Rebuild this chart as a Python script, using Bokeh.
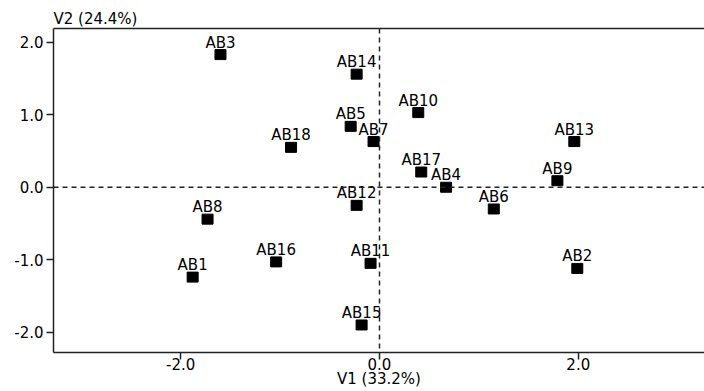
from bokeh.plotting import figure
from bokeh.models import ColumnDataSource, Span, LinearAxis, FixedTicker, Range1d, NumeralTickFormatter
from bokeh.core.properties import value
from bokeh.embed import file_html
from bokeh.resources import INLINE

labels = ["AB1", "AB2", "AB3", "AB4", "AB5", "AB6", "AB7", "AB8", "AB9",
          "AB10", "AB11", "AB12", "AB13", "AB14", "AB15", "AB16", "AB17", "AB18"]
v1 = [-1.88, 1.99, -1.60, 0.67, -0.29, 1.15, -0.06, -1.73, 1.79,
      0.39, -0.09, -0.23, 1.96, -0.23, -0.18, -1.04, 0.42, -0.89]
v2 = [-1.24, -1.12, 1.83, 0.00, 0.84, -0.30, 0.63, -0.44, 0.09,
      1.03, -1.05, -0.25, 0.63, 1.56, -1.90, -1.03, 0.21, 0.55]
x_ticks = [-2.0, 0.0, 2.0]
y_ticks = [-2.0, -1.0, 0.0, 1.0, 2.0]
x_title = "V1 (33.2%)"
y_title = "V2 (24.4%)"

FONT = "DejaVu Sans"
FS = "15px"
AX = "#222222"

src = ColumnDataSource(dict(x=v1, y=v2, name=labels))

p = figure(width=704, height=391, output_backend="svg", toolbar_location=None,
           x_range=Range1d(-3.28, 3.27), y_range=Range1d(-2.28, 2.19),
           x_axis_location=None, y_axis_location=None,
           min_border_left=53, min_border_right=0, min_border_top=28, min_border_bottom=39)
p.grid.visible = False
p.outline_line_color = None
p.background_fill_color = "white"
p.border_fill_color = "white"

p.title.text = y_title
p.title.align = "left"
p.title.text_font = FONT
p.title.text_font_size = FS
p.title.text_font_style = "normal"
p.title.text_color = "#000000"
p.title.standoff = 1
p.title.offset = 0

def style(ax):
    ax.axis_line_color = AX
    ax.axis_line_width = 1.5
    ax.major_tick_line_color = AX
    ax.major_tick_line_width = 1.5
    ax.major_tick_out = 7
    ax.major_tick_in = 0
    ax.minor_tick_line_color = None
    ax.major_label_text_font = FONT
    ax.major_label_text_font_size = FS
    ax.major_label_text_color = "#000000"
    ax.formatter = NumeralTickFormatter(format="0.0")

xa = LinearAxis(ticker=FixedTicker(ticks=x_ticks), axis_label=x_title)
style(xa)
xa.major_label_standoff = -2
xa.axis_label_text_font = FONT
xa.axis_label_text_font_size = FS
xa.axis_label_text_font_style = "normal"
xa.axis_label_text_color = "#000000"
xa.axis_label_standoff = -3
p.add_layout(xa, "below")

ya = LinearAxis(ticker=FixedTicker(ticks=y_ticks))
style(ya)
ya.major_label_standoff = 3
p.add_layout(ya, "left")

top = LinearAxis(ticker=FixedTicker(ticks=[]))
top.axis_line_color = AX
top.axis_line_width = 1.5
top.major_tick_line_color = None
top.minor_tick_line_color = None
top.major_label_text_font_size = "0px"
top.major_label_standoff = 0
p.add_layout(top, "above")

p.add_layout(Span(location=0, dimension="width", line_color="#222222",
                  line_width=1.5, line_dash="5 4"))
p.add_layout(Span(location=0, dimension="height", line_color="#222222",
                  line_width=1.5, line_dash="5 4"))

p.rect(x="x", y="y", width=11, height=10, width_units="screen", height_units="screen",
       source=src, fill_color="black", line_color="black")
p.text(x="x", y="y", text="name", source=src, text_font=value(FONT),
       text_font_size=FS, text_align="center", text_baseline="bottom",
       y_offset=-3, text_color="#000000")

open("out.html", "w").write(file_html(p, INLINE))
